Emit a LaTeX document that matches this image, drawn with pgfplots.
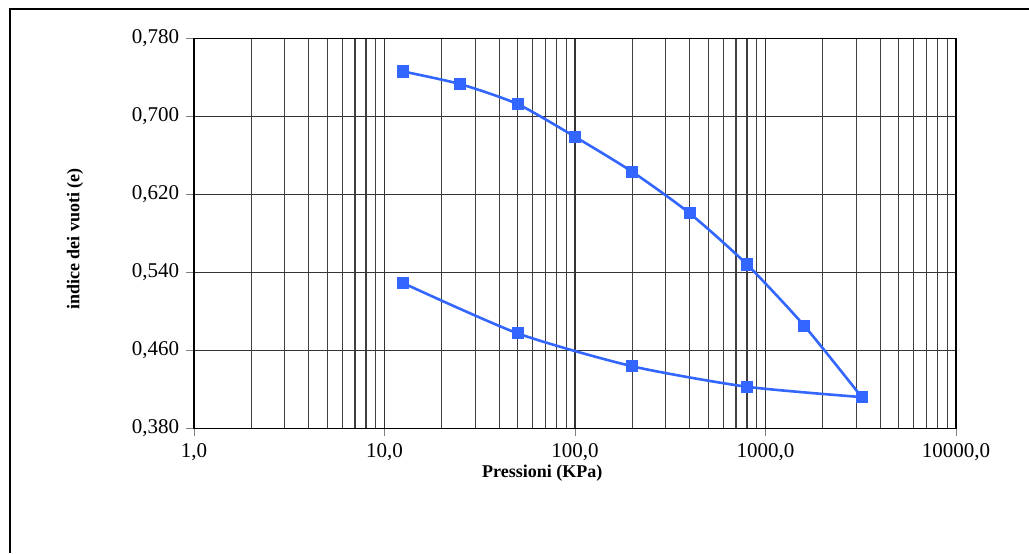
\documentclass[border=0pt]{standalone}
\usepackage{fontspec}
\setmainfont{Liberation Serif}
\usepackage{pgfplots}
\pgfplotsset{compat=1.18}
\definecolor{serie}{RGB}{51,102,255}
\begin{document}
\begin{tikzpicture}
\useasboundingbox (0pt,0pt) rectangle (514.5pt,276.5pt);
\draw[line width=1pt] (5pt,0pt) -- (5pt,272pt) -- (514.5pt,272pt);
\begin{axis}[
  at={(97pt,62.35pt)}, anchor=south west,
  scale only axis, width=381pt, height=195pt,
  xmode=log, log basis x=10,
  xmin=1, xmax=10000, ymin=0.38, ymax=0.78,
  xtick={1,10,100,1000,10000},
  minor xtick={2,3,4,5,6,7,8,9,20,30,40,50,60,70,80,90,200,300,400,500,600,700,800,900,2000,3000,4000,5000,6000,7000,8000,9000},
  xticklabels={1{,}0,10{,}0,100{,}0,1000{,}0,10000{,}0},
  ytick={0.38,0.46,0.54,0.62,0.70,0.78},
  yticklabels={0{,}380,0{,}460,0{,}540,0{,}620,0{,}700,0{,}780},
  tick label style={font=\fontsize{10.5}{12}\selectfont},
  xlabel={\textbf{Pressioni (KPa)}},
  ylabel={\textbf{indice dei vuoti (e)}},
  label style={font=\fontsize{9}{11}\selectfont},
  xlabel style={at={([yshift=-22.5pt]axis description cs:0.457,0)}, anchor=center},
  ylabel style={at={([xshift=-59.5pt]axis description cs:0,0.485)}, anchor=center},
  xmajorgrids, xminorgrids, ymajorgrids,
  major grid style={black!80, line width=0.6pt},
  minor grid style={black!75, line width=0.6pt},
  minor tick length=0pt,
  major tick length=4pt,
  tick align=outside,
  xtick pos=bottom, ytick pos=left,
  axis line style={black, line width=0.7pt},
  clip=false,
]
\addplot[serie, line width=1.3pt, smooth, tension=0.4, mark=square*, mark size=2.4pt, mark options={solid, fill=serie}]
  coordinates {(12.5,0.746) (25,0.733) (50,0.7125) (100,0.679) (200,0.643) (400,0.6005) (800,0.548) (1600,0.485) (3200,0.412)};
\addplot[serie, line width=1.3pt, smooth, tension=0.4, mark=square*, mark size=2.4pt, mark options={solid, fill=serie}]
  coordinates {(3200,0.412) (800,0.4226) (200,0.4436) (50,0.4774) (12.5,0.529)};
\end{axis}
\end{tikzpicture}
\end{document}
